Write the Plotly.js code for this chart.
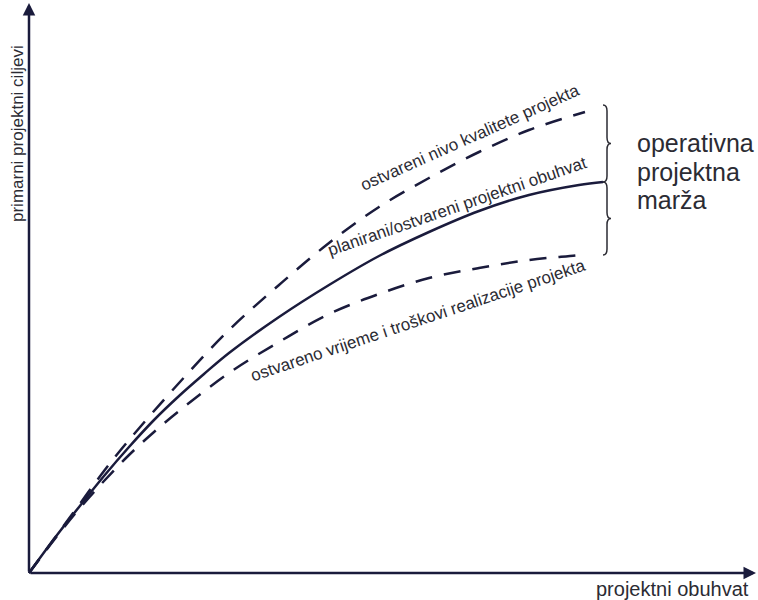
<!DOCTYPE html>
<html>
<head>
<meta charset="utf-8">
<script src="https://cdn.plot.ly/plotly-3.0.1.min.js"></script>
<style>
  body { margin: 0; background: #fff; }
  #chart { width: 758px; height: 600px; }
</style>
</head>
<body>
<div id="chart"></div>
<script>
// Vrijednosti očitane sa slike (x = projektni obuhvat, y = primarni ciljevi)
const xPlan = [0, 25, 50, 75, 100, 125, 150, 175, 200, 250, 300, 350, 400, 450, 500, 550, 574];
const yPlan = [0, 34, 66, 97, 126, 153, 177, 199, 220, 256, 288, 317, 341, 362, 378, 388, 391];

const xKval = [0, 25, 50, 75, 100, 150, 200, 250, 300, 350, 400, 450, 500, 556];
const yKval = [0, 34, 68, 102, 133, 190, 243, 288, 330, 366, 395, 421, 443, 461];

const xTrosk = [0, 25, 50, 75, 100, 125, 150, 200, 250, 300, 350, 400, 450, 500, 550, 556];
const yTrosk = [0, 33, 64, 92, 118, 141, 162, 200, 231, 259, 279, 295, 305, 313, 318, 319];

const margaLines = ["operativna", "projektna", "marža"];

const lineColor = "#1a1b3c";
const textColor = "#2b2b33";
const font = "Liberation Sans, Arial, sans-serif";

const data = [
  {
    x: xPlan, y: yPlan, mode: "lines", line: { color: lineColor, width: 2.5, shape: "spline" },
    hoverinfo: "skip",
  },
  {
    x: xKval, y: yKval, mode: "lines", line: { color: lineColor, width: 2.5, dash: "17px,12px", shape: "spline" },
    hoverinfo: "skip",
  },
  {
    x: xTrosk, y: yTrosk, mode: "lines", line: { color: lineColor, width: 2.5, dash: "17px,12px", shape: "spline" },
    hoverinfo: "skip",
  },
];

// vitičaste zagrade "}" uz krajeve krivulja
function brace(x, yTop, yBot) {
  const yMid = (yTop + yBot) / 2;
  return `M ${x - 4},${yTop} Q ${x},${yTop} ${x},${yTop - 6} L ${x},${yMid + 6} ` +
    `Q ${x},${yMid} ${x + 4},${yMid} Q ${x},${yMid} ${x},${yMid - 6} ` +
    `L ${x},${yBot + 6} Q ${x},${yBot} ${x - 4},${yBot}`;
}
const bx = 578;
const yTopBr = yKval[yKval.length - 1] + 7;
const yMidBr = yPlan[yPlan.length - 1];
const yBotBr = yTrosk[yTrosk.length - 1] - 1;

const annotations = [
  // osi sa strelicama
  {
    x: 0, y: 570, ax: 0, ay: 0, xref: "x", yref: "y", axref: "x", ayref: "y",
    text: "", showarrow: true, arrowhead: 2, arrowsize: 1, arrowwidth: 2.5, arrowcolor: lineColor,
  },
  {
    x: 727, y: 0, ax: 0, ay: 0, xref: "x", yref: "y", axref: "x", ayref: "y",
    text: "", showarrow: true, arrowhead: 2, arrowsize: 1, arrowwidth: 2.5, arrowcolor: lineColor,
  },
  {
    x: -12, y: 439, xref: "x", yref: "y", text: "primarni projektni ciljevi", showarrow: false,
    textangle: -90, font: { family: font, size: 17, color: textColor },
  },
  {
    x: 643, y: -16, xref: "x", yref: "y", text: "projektni obuhvat", showarrow: false,
    font: { family: font, size: 20, color: textColor },
  },
  {
    x: 441, y: 436, xref: "x", yref: "y", text: "ostvareni nivo kvalitete projekta", showarrow: false,
    textangle: -24, font: { family: font, size: 17, color: textColor },
  },
  {
    x: 428, y: 367, xref: "x", yref: "y", text: "planirani/ostvareni projektni obuhvat", showarrow: false,
    textangle: -19, font: { family: font, size: 17, color: textColor },
  },
  {
    x: 389, y: 253, xref: "x", yref: "y", text: "ostvareno vrijeme i troškovi realizacije projekta", showarrow: false,
    textangle: -18.5, font: { family: font, size: 17, color: textColor },
  },
];

margaLines.forEach((t, i) => {
  annotations.push({
    x: 606, y: 430 - i * 28.5, xref: "x", yref: "y", xanchor: "left", text: t, showarrow: false,
    font: { family: font, size: 25, color: textColor },
  });
});

const layout = {
  width: 758,
  height: 600,
  margin: { l: 0, r: 0, t: 0, b: 0 },
  paper_bgcolor: "#ffffff",
  plot_bgcolor: "#ffffff",
  showlegend: false,
  xaxis: { range: [-29, 729], visible: false, fixedrange: true },
  yaxis: { range: [-27, 573], visible: false, fixedrange: true },
  shapes: [
    { type: "path", xref: "x", yref: "y", path: brace(bx, yTopBr, yMidBr), line: { color: textColor, width: 1.5 } },
    { type: "path", xref: "x", yref: "y", path: brace(bx, yMidBr, yBotBr), line: { color: textColor, width: 1.5 } },
  ],
  annotations: annotations,
};

Plotly.newPlot("chart", data, layout, { displayModeBar: false, staticPlot: true });
</script>
</body>
</html>
